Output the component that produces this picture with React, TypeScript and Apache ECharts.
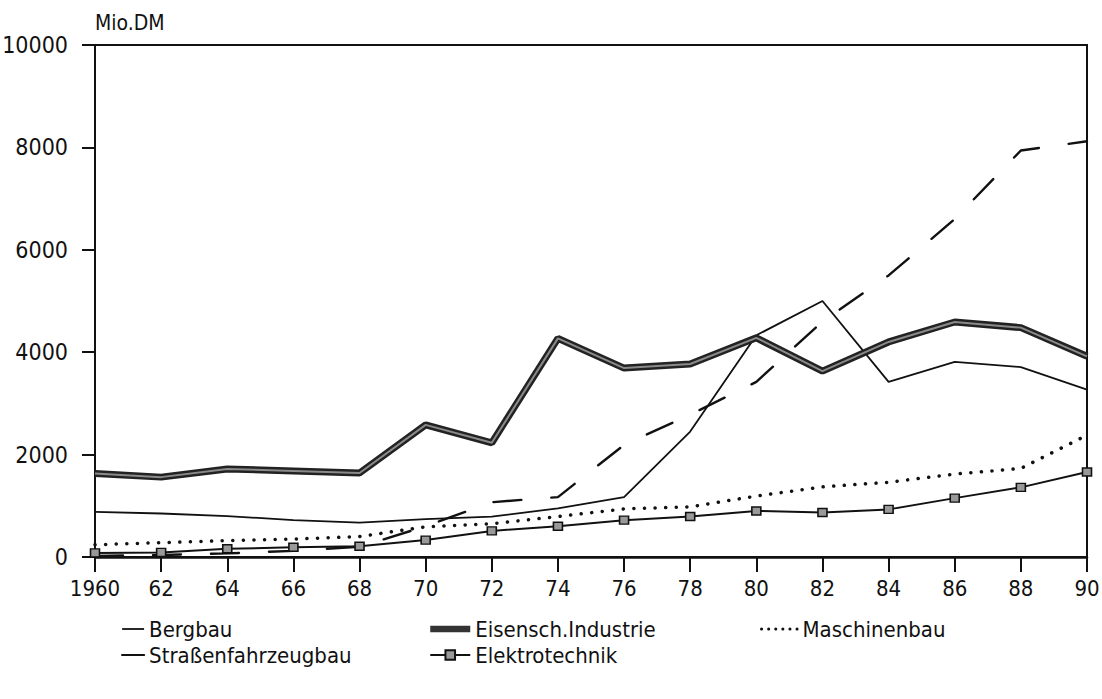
import React, { useEffect, useRef } from "react";
import * as echarts from "echarts";

const years = ["1960", "62", "64", "66", "68", "70", "72", "74", "76", "78", "80", "82", "84", "86", "88", "90"];
const bergbau = [880, 850, 800, 720, 670, 740, 790, 950, 1170, 2450, 4330, 5000, 3420, 3810, 3710, 3270];
const strassenfahrzeugbau = [20, 40, 70, 120, 200, 600, 1070, 1170, 2190, 2780, 3420, 4600, 5500, 6600, 7940, 8120];
const eisenschIndustrie = [1630, 1560, 1720, 1680, 1640, 2580, 2230, 4270, 3690, 3770, 4280, 3630, 4200, 4590, 4480, 3920];
const maschinenbau = [240, 280, 320, 350, 400, 590, 650, 790, 940, 980, 1190, 1370, 1460, 1620, 1730, 2380];
const elektrotechnik = [80, 90, 160, 190, 210, 330, 510, 600, 720, 790, 900, 870, 930, 1150, 1360, 1660];
const yTicks = { min: 0, max: 10000, interval: 2000 };

const FONT = "'DejaVu Sans Condensed', 'DejaVu Sans', sans-serif";
const INK = "#111";

export default function App() {
  const ref = useRef<HTMLDivElement>(null);
  useEffect(() => {
    if (!ref.current) return;
    const chart = echarts.init(ref.current, null, { renderer: "svg" });
    const legendText = { fontSize: 22, color: INK, fontFamily: FONT };
    const noMark = { opacity: 0 };
    chart.setOption({
      animation: false,
      backgroundColor: "#fff",
      color: [INK],
      textStyle: { fontFamily: FONT, color: INK },
      grid: {
        left: 95, right: 15, top: 45, bottom: 142,
        containLabel: false,
        outerBoundsMode: "none",
        show: true, borderColor: INK, borderWidth: 2, backgroundColor: "transparent",
      },
      xAxis: {
        type: "category",
        data: years,
        boundaryGap: false,
        axisLine: { lineStyle: { color: INK, width: 2.5 } },
        axisTick: { show: true, length: 15, lineStyle: { color: INK, width: 2 } },
        axisLabel: { fontSize: 22, color: INK, margin: 20, fontFamily: FONT },
        splitLine: { show: false },
      },
      yAxis: {
        type: "value",
        min: yTicks.min, max: yTicks.max, interval: yTicks.interval,
        name: "Mio.DM",
        nameLocation: "end",
        nameGap: 12,
        nameTextStyle: { fontSize: 21, color: INK, align: "left", fontFamily: FONT },
        axisLine: { show: true, lineStyle: { color: INK, width: 2 } },
        axisTick: { show: true, length: 13, lineStyle: { color: INK, width: 2 } },
        axisLabel: { fontSize: 23, color: INK, margin: 27, fontFamily: FONT, formatter: (v: number) => String(v) },
        splitLine: { show: false },
      },
      legend: [
        {
          data: [
            { name: "Bergbau", itemStyle: noMark, lineStyle: { color: INK, width: 1.8, type: "solid" } },
            { name: "Straßenfahrzeugbau", itemStyle: noMark, lineStyle: { color: INK, width: 2.2, type: "solid" } },
          ],
          orient: "vertical", left: 116, top: 613, itemGap: 4,
          itemWidth: 22, itemHeight: 12, textStyle: legendText,
        },
        {
          data: [
            { name: "Eisensch.Industrie", itemStyle: noMark, lineStyle: { color: "#333", width: 6.5, type: "solid" } },
            { name: "Elektrotechnik", lineStyle: { color: INK, width: 2.2, type: "solid" } },
          ],
          orient: "vertical", left: 422, top: 613, itemGap: 4,
          itemWidth: 40, itemHeight: 12, textStyle: legendText,
        },
        {
          data: [{ name: "Maschinenbau", itemStyle: noMark, lineStyle: { color: INK, type: [0.1, 7], width: 3, cap: "round" } }],
          orient: "vertical", left: 755, top: 613, itemGap: 4,
          itemWidth: 36, itemHeight: 12, textStyle: legendText,
        },
      ],
      series: [
        {
          name: "Bergbau", type: "line", data: bergbau, symbol: "none",
          itemStyle: { color: INK },
          lineStyle: { color: INK, width: 1.8 },
        },
        {
          name: "Straßenfahrzeugbau", type: "line", data: strassenfahrzeugbau, symbol: "none",
          itemStyle: { color: INK },
          lineStyle: { color: INK, width: 2.4, type: [28, 30], cap: "round" },
        },
        {
          name: "Eisensch.Industrie", type: "line", data: eisenschIndustrie, symbol: "none",
          itemStyle: { color: "#222" },
          lineStyle: { color: "#222", width: 7 },
        },
        {
          name: "Eisensch.Industrie", type: "line", data: eisenschIndustrie, symbol: "none",
          itemStyle: { color: "#8a8a8a" },
          lineStyle: { color: "#8a8a8a", width: 2 },
        },
        {
          name: "Maschinenbau", type: "line", data: maschinenbau, symbol: "none",
          itemStyle: { color: INK },
          lineStyle: { color: INK, width: 3.5, type: [0.1, 10.5], cap: "round" },
        },
        {
          name: "Elektrotechnik", type: "line", data: elektrotechnik,
          symbol: "rect", symbolSize: [9, 8], showSymbol: true,
          itemStyle: { color: "#999", borderColor: INK, borderWidth: 1.5 },
          lineStyle: { color: INK, width: 2 },
        },
      ],
    });
    return () => chart.dispose();
  }, []);
  return <div ref={ref} style={{ position: "absolute", left: 0, top: 0, width: 1102, height: 699 }} />;
}
